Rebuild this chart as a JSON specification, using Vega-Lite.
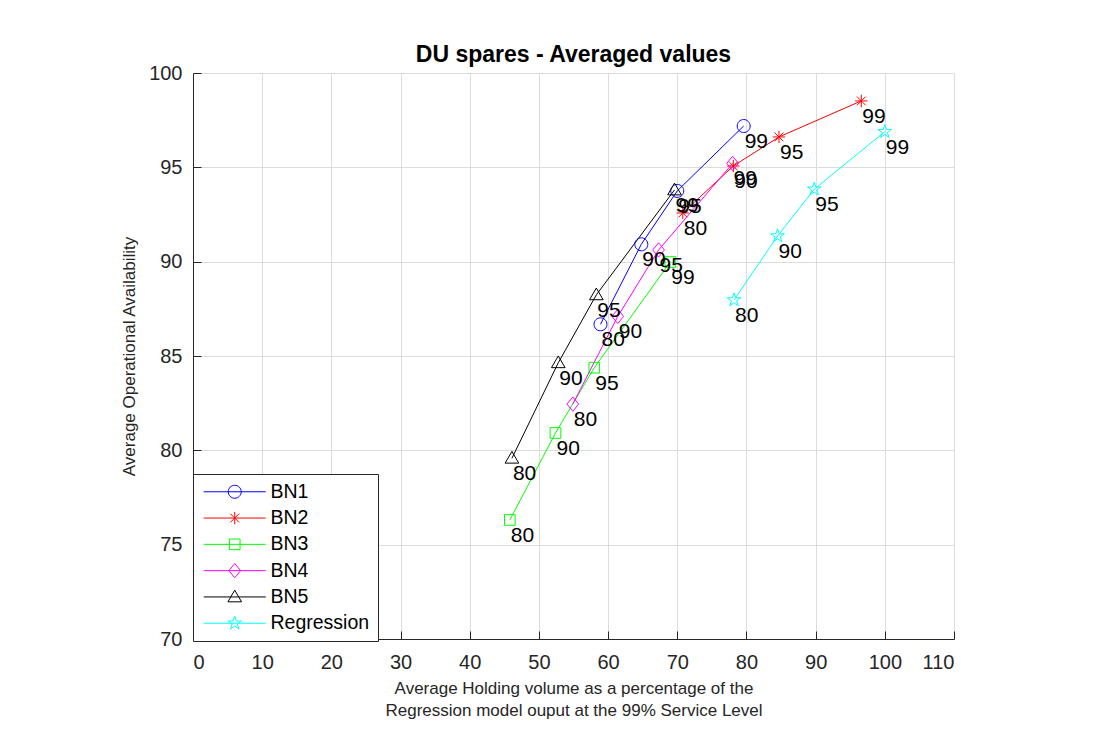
{
  "$schema": "https://vega.github.io/schema/vega-lite/v6.json",
  "width": 761,
  "height": 566,
  "autosize": {"type": "none"},
  "padding": {"left": 193, "top": 73, "right": 150, "bottom": 115},
  "background": "white",
  "config": {
    "view": {"stroke": null},
    "font": "Liberation Sans",
    "axis": {
      "labelFont": "Liberation Sans",
      "titleFont": "Liberation Sans",
      "labelColor": "#262626",
      "titleColor": "#262626",
      "domainColor": "#262626",
      "tickColor": "#262626",
      "gridColor": "#dcdcdc",
      "gridOpacity": 1,
      "titleFontWeight": "normal",
      "tickSize": -8,
      "labelFontSize": 20,
      "titleFontSize": 17
    }
  },
  "title": {
    "text": "DU spares - Averaged values",
    "font": "Liberation Sans",
    "fontSize": 23,
    "fontWeight": "bold",
    "color": "#000000",
    "anchor": "middle",
    "offset": -4
  },
  "data": {
    "values": [
      {"series": "BN1", "level": 80, "x": 58.9, "y": 86.68},
      {"series": "BN1", "level": 90, "x": 64.8, "y": 90.92},
      {"series": "BN1", "level": 95, "x": 70.0, "y": 93.75},
      {"series": "BN1", "level": 99, "x": 79.6, "y": 97.19},
      {"series": "BN2", "level": 80, "x": 70.8, "y": 92.58},
      {"series": "BN2", "level": 90, "x": 78.1, "y": 95.07},
      {"series": "BN2", "level": 95, "x": 84.7, "y": 96.61},
      {"series": "BN2", "level": 99, "x": 96.6, "y": 98.52},
      {"series": "BN3", "level": 80, "x": 45.8, "y": 76.31},
      {"series": "BN3", "level": 90, "x": 52.4, "y": 80.92},
      {"series": "BN3", "level": 95, "x": 58.0, "y": 84.38},
      {"series": "BN3", "level": 99, "x": 69.0, "y": 89.98},
      {"series": "BN4", "level": 80, "x": 54.9, "y": 82.45},
      {"series": "BN4", "level": 90, "x": 61.4, "y": 87.10},
      {"series": "BN4", "level": 95, "x": 67.3, "y": 90.62},
      {"series": "BN4", "level": 99, "x": 78.0, "y": 95.21},
      {"series": "BN5", "level": 80, "x": 46.1, "y": 79.58},
      {"series": "BN5", "level": 90, "x": 52.8, "y": 84.64},
      {"series": "BN5", "level": 95, "x": 58.3, "y": 88.24},
      {"series": "BN5", "level": 99, "x": 69.6, "y": 93.80},
      {"series": "Regression", "level": 80, "x": 78.2, "y": 87.97},
      {"series": "Regression", "level": 90, "x": 84.5, "y": 91.36},
      {"series": "Regression", "level": 95, "x": 89.8, "y": 93.84},
      {"series": "Regression", "level": 99, "x": 100.0, "y": 96.89}
    ]
  },
  "encoding": {
    "x": {
      "field": "x",
      "type": "quantitative",
      "scale": {"domain": [0, 110], "nice": false, "zero": false},
      "axis": {
        "values": [0, 10, 20, 30, 40, 50, 60, 70, 80, 90, 100, 110],
        "labelPadding": 21,
        "titlePadding": 8,
        "titleLineHeight": 22,
        "title": ["Average Holding volume as a percentage of the", "Regression model ouput at the 99% Service Level"]
      }
    },
    "y": {
      "field": "y",
      "type": "quantitative",
      "scale": {"domain": [70, 100], "nice": false, "zero": false},
      "axis": {
        "values": [70, 75, 80, 85, 90, 95, 100],
        "labelPadding": 19,
        "titlePadding": 10,
        "title": "Average Operational Availability"
      }
    },
    "color": {
      "field": "series",
      "type": "nominal",
      "scale": {
        "domain": ["BN1", "BN2", "BN3", "BN4", "BN5", "Regression"],
        "range": ["#0000ff", "#ff0000", "#00ff00", "#ff00ff", "#000000", "#00ffff"]
      },
      "legend": {
        "title": null,
        "orient": "none",
        "legendX": 0,
        "legendY": 401,
        "padding": 8,
        "rowPadding": 5.3,
        "labelFont": "Liberation Sans",
        "labelFontSize": 19.5,
        "labelColor": "#000000",
        "labelOffset": 50,
        "symbolSize": 169,
        "symbolStrokeWidth": 1,
        "symbolOpacity": 1,
        "strokeColor": "#262626",
        "fillColor": "white"
      }
    }
  },
  "layer": [
    {
      "mark": {"type": "line", "strokeWidth": 1},
      "encoding": {"order": {"field": "level", "type": "quantitative"}}
    },
    {
      "mark": {"type": "point", "filled": false, "strokeWidth": 1, "size": 169, "opacity": 0},
      "encoding": {
        "shape": {
          "field": "series",
          "type": "nominal",
          "legend": null,
          "scale": {
            "domain": ["BN1", "BN2", "BN3", "BN4", "BN5", "Regression"],
            "range": [
              "M-1.08,0H8.46M4.69,0A1,1,0,1,1,2.69,0A1,1,0,1,1,4.69,0Z",
              "M-1.08,0H8.46M3.69,-0.95V0.95M3.02,-0.67L4.36,0.67M3.02,0.67L4.36,-0.67",
              "M-1.08,0H8.46M2.87,-0.82H4.51V0.82H2.87Z",
              "M-1.08,0H8.46M3.69,-1.1L4.59,0L3.69,1.1L2.79,0Z",
              "M-1.08,0H8.46M3.69,-1.05L4.74,0.75H2.64Z",
              "M-1.08,0H8.46M3.69,-1.1L3.937,-0.34L4.736,-0.34L4.09,0.13L4.337,0.89L3.69,0.42L3.043,0.89L3.29,0.13L2.644,-0.34L3.443,-0.34Z"
            ]
          }
        }
      }
    },
    {
      "transform": [{"filter": "datum.series === 'BN1'"}],
      "mark": {"type": "point", "filled": false, "strokeWidth": 1, "size": 169, "opacity": 1, "shape": "M1,0A1,1,0,1,1,-1,0A1,1,0,1,1,1,0Z"}
    },
    {
      "transform": [{"filter": "datum.series === 'BN2'"}],
      "mark": {"type": "point", "filled": false, "strokeWidth": 1, "size": 169, "opacity": 1, "shape": "M-0.95,0H0.95M0,-0.95V0.95M-0.67,-0.67L0.67,0.67M-0.67,0.67L0.67,-0.67"}
    },
    {
      "transform": [{"filter": "datum.series === 'BN3'"}],
      "mark": {"type": "point", "filled": false, "strokeWidth": 1, "size": 169, "opacity": 1, "shape": "M-0.82,-0.82H0.82V0.82H-0.82Z"}
    },
    {
      "transform": [{"filter": "datum.series === 'BN4'"}],
      "mark": {"type": "point", "filled": false, "strokeWidth": 1, "size": 169, "opacity": 1, "shape": "M0,-1.1L0.9,0L0,1.1L-0.9,0Z"}
    },
    {
      "transform": [{"filter": "datum.series === 'BN5'"}],
      "mark": {"type": "point", "filled": false, "strokeWidth": 1, "size": 169, "opacity": 1, "shape": "M0,-1.05L1.05,0.75H-1.05Z"}
    },
    {
      "transform": [{"filter": "datum.series === 'Regression'"}],
      "mark": {"type": "point", "filled": false, "strokeWidth": 1, "size": 169, "opacity": 1, "shape": "M0,-1.1L0.247,-0.34L1.046,-0.34L0.4,0.13L0.647,0.89L0,0.42L-0.647,0.89L-0.4,0.13L-1.046,-0.34L-0.247,-0.34Z"}
    },
    {
      "mark": {"type": "text", "align": "left", "baseline": "alphabetic", "dx": 1, "dy": 22, "fontSize": 21, "font": "Liberation Sans"},
      "encoding": {
        "text": {"field": "level", "type": "quantitative"},
        "color": {"value": "#000000"}
      }
    }
  ]
}
